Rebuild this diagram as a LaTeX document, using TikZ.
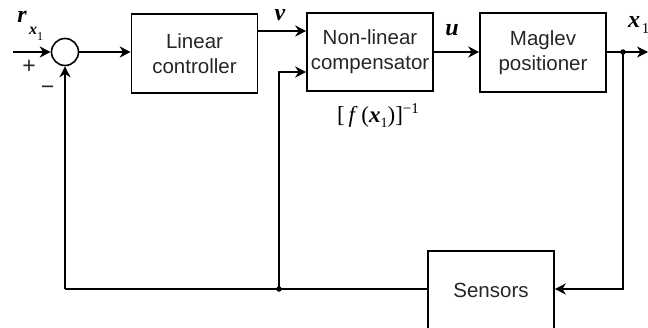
\documentclass[tikz,border=0pt]{standalone}
\usepackage{fontspec}
\setmainfont{Liberation Serif}
\newfontfamily\arialfont{Liberation Sans}
\usetikzlibrary{arrows.meta,calc}
\begin{document}
\begin{tikzpicture}[x=1pt,y=-1pt,
  line width=1.6pt,
  >={Stealth[length=11pt,width=11pt,inset=3.5pt]},
  blockbox/.style={draw,rectangle,minimum width=126pt,minimum height=79pt,inner sep=0pt,
    font=\arialfont\fontsize{20.5}{25}\selectfont,align=center,text=black!85},
  sumnode/.style={draw,circle,minimum size=27pt,inner sep=0pt},
  junction/.style={circle,fill,inner sep=0pt,minimum size=5.5pt},
  mlabel/.style={font=\fontsize{24}{26}\selectfont\bfseries\itshape,inner sep=0pt}]
\useasboundingbox (0,0) rectangle (648,327);
\clip (0,0) rectangle (648,327);
% blocks
\node[sumnode] (sum) at (65,52) {};
\node[blockbox] (lc) at (194.5,53.5) {Linear\\controller};
\node[blockbox,minimum height=78pt] (nlc) at (370,52) {Non-linear\\compensator};
\node[blockbox] (mag) at (543,52.5) {Maglev\\positioner};
\node[blockbox,minimum height=84pt] (sens) at (491,293) {\raisebox{5pt}{Sensors}};
% coordinates
\coordinate (in) at (13,52);
\coordinate (out) at (648,52);
\node[junction] (j1) at (623,52) {};
\node[junction] (j2) at (279,289) {};
\coordinate (vy) at (0,31);
\coordinate (cy) at (0,72);
\coordinate (fy) at (0,289);
\coordinate (corner) at (65,289);
% connectors
\draw[->] (in) -- (sum.west);
\draw[->] (sum.east) -- (sum -| lc.west);
\draw[->] (lc.east |- vy) -- (nlc.west |- vy);
\draw[->] (nlc.east |- out) -- (mag.west |- out);
\draw[->] (mag.east |- out) -- (out);
\draw[->] (j1.center) |- (sens.east |- fy);
\draw (sens.west |- fy) -- (corner);
\draw[->] (corner) -- (sum.south);
\draw[->] (j2.center) -- (j2 |- cy) -- (nlc.west |- cy);
% labels
\node[mlabel] (rlab) at (22,17) {r};
\node[font=\fontsize{16}{16}\selectfont\bfseries\itshape,inner sep=0pt] (rsub) at (33,31) {x};
\node[font=\fontsize{12}{12}\selectfont,inner sep=0pt] (rsub1) at (40,37) {1};
\node[font=\arialfont\fontsize{23}{23}\selectfont,inner sep=0pt,text=black!85] (plus) at (29,67) {+};
\node[font=\arialfont\fontsize{23}{23}\selectfont,inner sep=0pt,text=black!85] (minus) at (47.5,90) {\char"2212};
\node[mlabel] (vlab) at (280,15) {v};
\node[mlabel] (ulab) at (452,30) {u};
\node[mlabel] (xlab) at (634,22) {x};
\node[font=\fontsize{15}{15}\selectfont,inner sep=0pt] (xsub) at (645.5,29) {1};
\node[font=\fontsize{23}{24}\selectfont,inner sep=0pt] (flab) at (378,116)
  {[\,\textit{f}\,(\textbf{\textit{x}}\raisebox{-5pt}{\fontsize{14}{14}\selectfont 1})]\raisebox{9pt}{\fontsize{15}{15}\selectfont\char"2212 1}};
\end{tikzpicture}
\end{document}
